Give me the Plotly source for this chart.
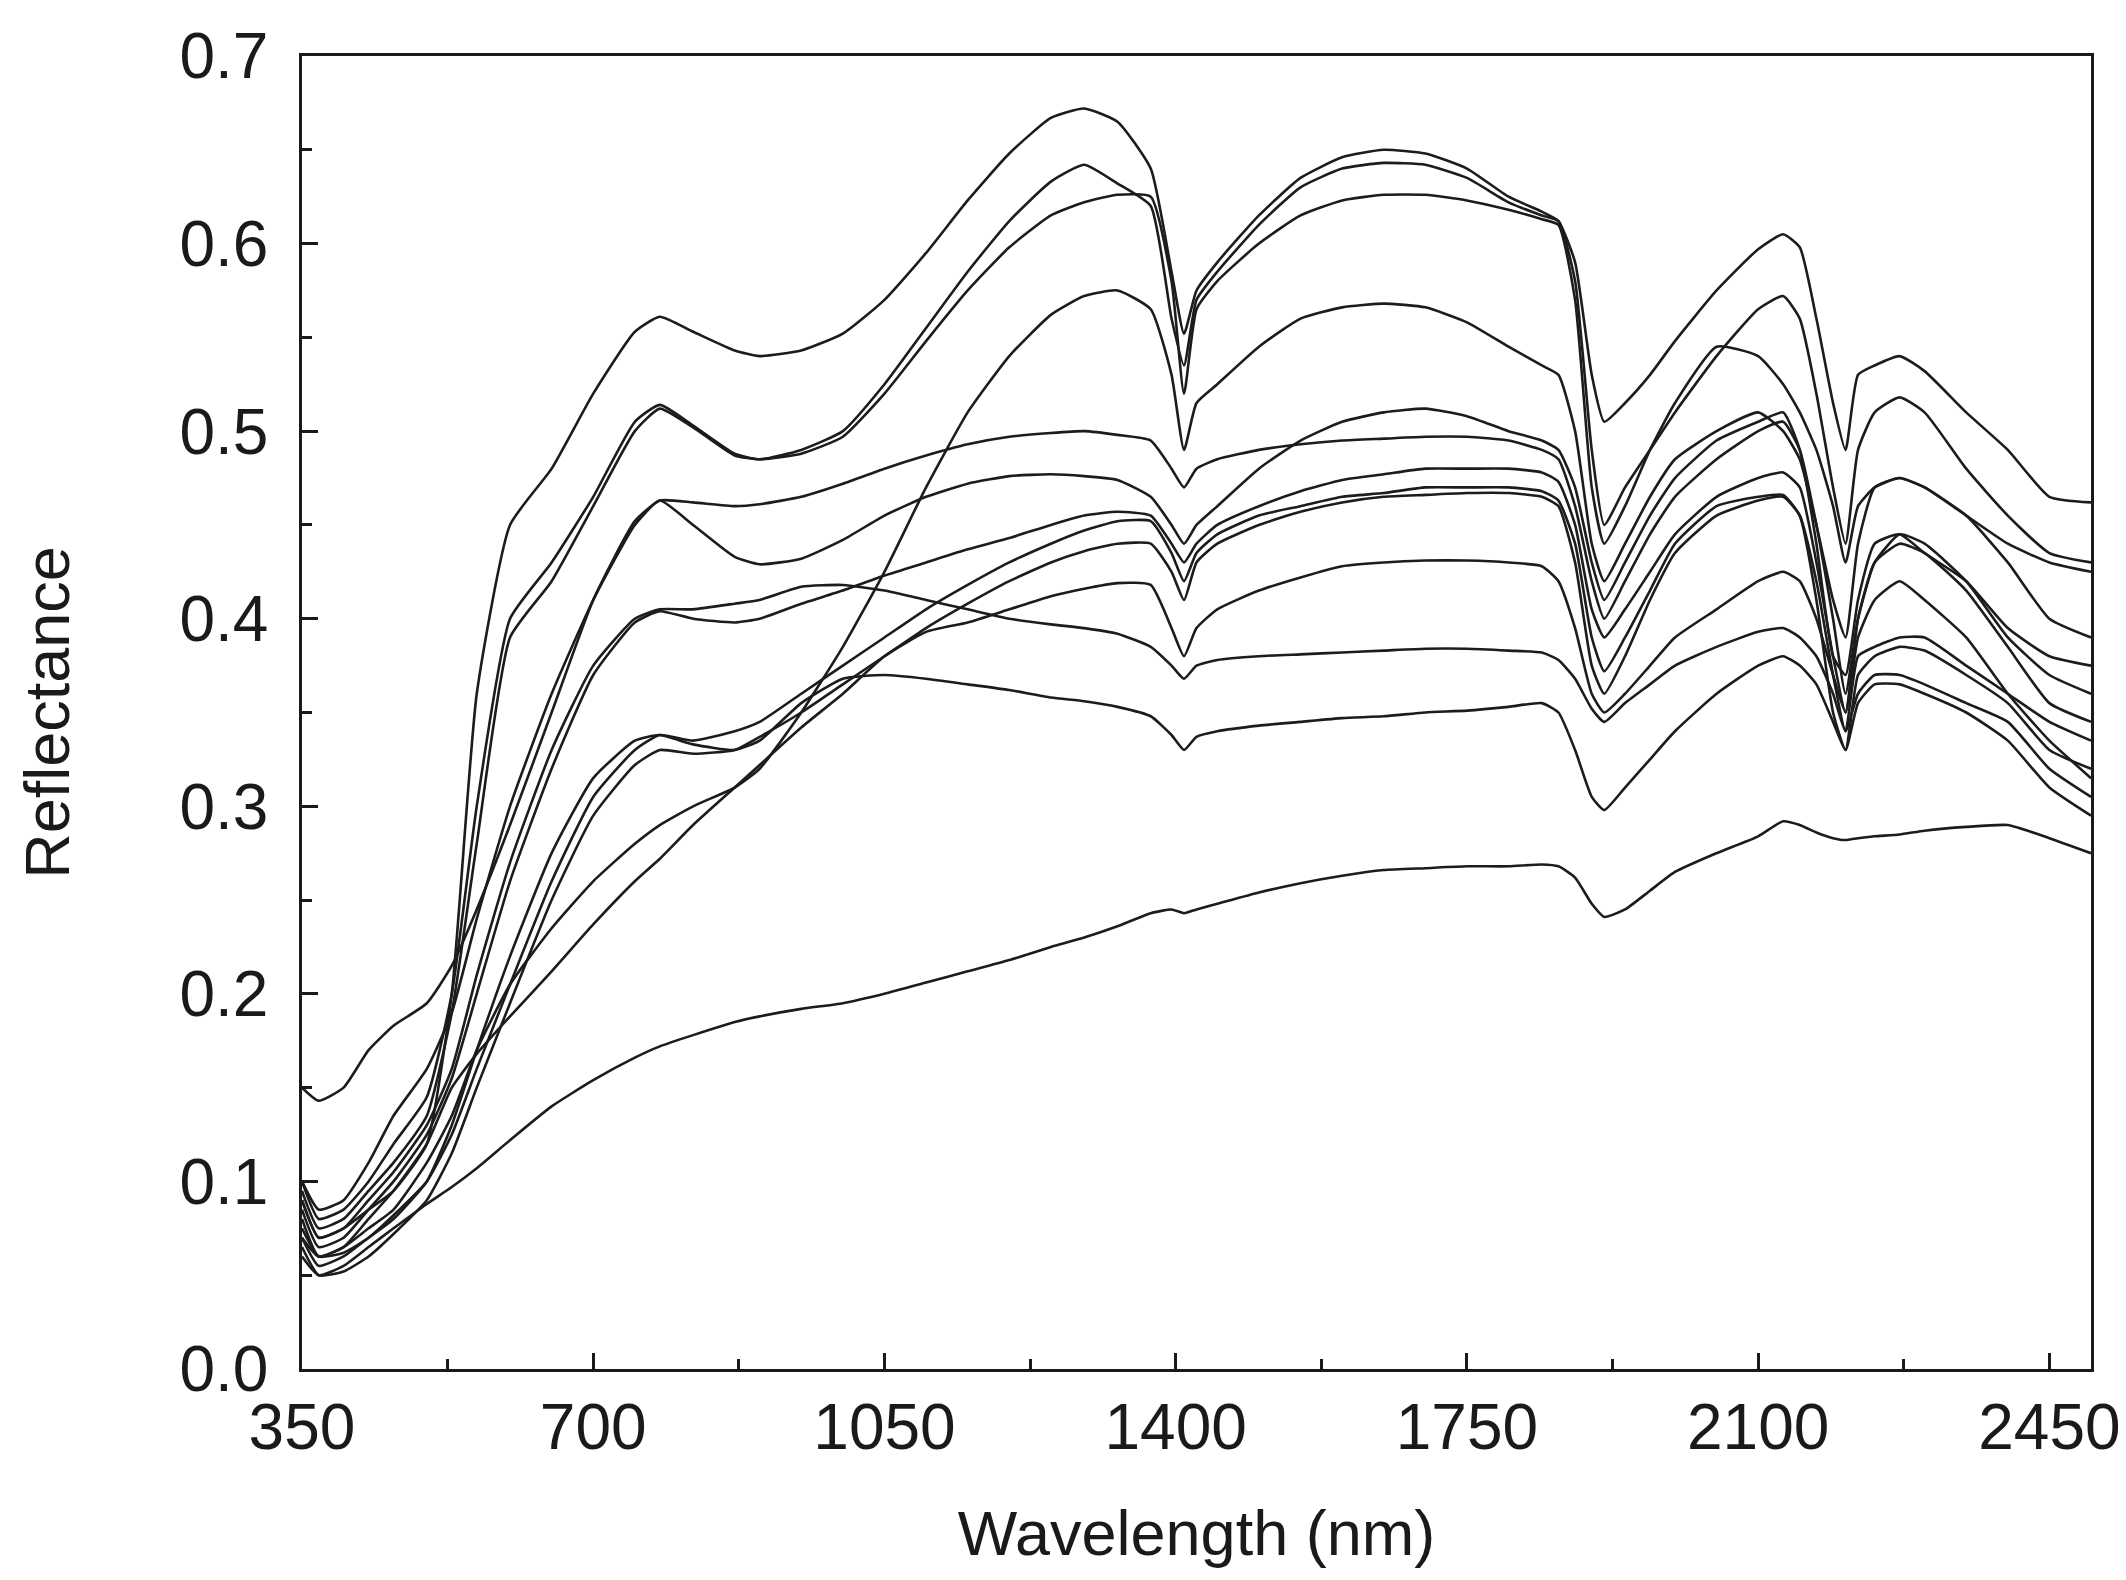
import plotly.graph_objects as go

# wavelength grid (nm) shared by all spectra
wavelength = [350, 370, 400, 430, 460, 500, 530, 560, 600, 650,
              700, 750, 780, 820, 870, 900, 950, 1000, 1050, 1100,
              1150, 1200, 1250, 1290, 1330, 1370, 1395, 1410, 1425, 1450,
              1500, 1550, 1600, 1650, 1700, 1750, 1800, 1840, 1860, 1880,
              1900, 1915, 1940, 1970, 2000, 2050, 2100, 2130, 2150, 2170,
              2190, 2205, 2220, 2240, 2270, 2300, 2350, 2400, 2450, 2500]

spec_a = [0.09, 0.07, 0.075, 0.085, 0.095, 0.12, 0.20, 0.36, 0.45, 0.48,
          0.52, 0.553, 0.561, 0.553, 0.543, 0.540, 0.543, 0.552, 0.570, 0.595,
          0.623, 0.648, 0.667, 0.672, 0.665, 0.640, 0.585, 0.552, 0.575, 0.59,
          0.615, 0.635, 0.646, 0.650, 0.648, 0.640, 0.625, 0.617, 0.612, 0.59,
          0.53, 0.505, 0.515, 0.53, 0.548, 0.575, 0.597, 0.605, 0.598, 0.56,
          0.515, 0.49, 0.53, 0.535, 0.54, 0.532, 0.51, 0.49, 0.465, 0.462]

spec_b = [0.10, 0.08, 0.085, 0.10, 0.12, 0.145, 0.20, 0.30, 0.40, 0.43,
          0.465, 0.505, 0.514, 0.503, 0.488, 0.485, 0.49, 0.50, 0.525, 0.555,
          0.585, 0.612, 0.633, 0.642, 0.632, 0.62, 0.56, 0.535, 0.57, 0.585,
          0.61, 0.63, 0.640, 0.643, 0.642, 0.635, 0.622, 0.615, 0.612, 0.58,
          0.49, 0.45, 0.47, 0.49, 0.51, 0.54, 0.565, 0.572, 0.56, 0.52,
          0.47, 0.44, 0.49, 0.51, 0.518, 0.51, 0.48, 0.455, 0.435, 0.43]

spec_c = [0.095, 0.075, 0.08, 0.095, 0.11, 0.135, 0.19, 0.28, 0.39, 0.42,
          0.46, 0.50, 0.512, 0.502, 0.487, 0.485, 0.488, 0.497, 0.52, 0.548,
          0.575, 0.598, 0.615, 0.622, 0.626, 0.625, 0.58, 0.52, 0.565, 0.58,
          0.60, 0.615, 0.623, 0.626, 0.626, 0.623, 0.618, 0.613, 0.61, 0.57,
          0.47, 0.44, 0.46, 0.49, 0.515, 0.545, 0.54, 0.525, 0.51, 0.49,
          0.46, 0.43, 0.46, 0.47, 0.475, 0.47, 0.455, 0.44, 0.43, 0.425]

spec_d = [0.08, 0.06, 0.065, 0.075, 0.085, 0.11, 0.135, 0.17, 0.205, 0.235,
          0.26, 0.28, 0.29, 0.30, 0.31, 0.32, 0.35, 0.385, 0.425, 0.47,
          0.51, 0.54, 0.562, 0.572, 0.575, 0.565, 0.53, 0.49, 0.515, 0.525,
          0.545, 0.56, 0.566, 0.568, 0.566, 0.558, 0.545, 0.535, 0.53, 0.50,
          0.44, 0.42, 0.44, 0.465, 0.485, 0.50, 0.51, 0.50, 0.485, 0.45,
          0.41, 0.39, 0.44, 0.47, 0.475, 0.47, 0.455, 0.43, 0.40, 0.39]

spec_e = [0.10, 0.085, 0.09, 0.11, 0.135, 0.16, 0.19, 0.24, 0.30, 0.36,
          0.41, 0.45, 0.463, 0.45, 0.433, 0.429, 0.432, 0.442, 0.455, 0.465,
          0.472, 0.476, 0.477, 0.476, 0.474, 0.465, 0.45, 0.44, 0.45, 0.46,
          0.48, 0.495, 0.505, 0.51, 0.512, 0.508, 0.50, 0.495, 0.49, 0.47,
          0.43, 0.41, 0.43, 0.455, 0.475, 0.495, 0.505, 0.51, 0.49, 0.44,
          0.38, 0.37, 0.41, 0.44, 0.445, 0.435, 0.42, 0.395, 0.38, 0.375]

spec_f = [0.15, 0.143, 0.15, 0.17, 0.183, 0.195, 0.215, 0.245, 0.29, 0.35,
          0.41, 0.452, 0.463, 0.462, 0.46, 0.461, 0.465, 0.472, 0.48, 0.487,
          0.493, 0.497, 0.499, 0.50, 0.498, 0.495, 0.48, 0.47, 0.48, 0.485,
          0.49, 0.493, 0.495, 0.496, 0.497, 0.497, 0.495, 0.49, 0.485, 0.46,
          0.42, 0.40, 0.42, 0.445, 0.465, 0.485, 0.50, 0.505, 0.49, 0.45,
          0.40, 0.36, 0.40, 0.43, 0.445, 0.44, 0.42, 0.39, 0.37, 0.36]

spec_g = [0.085, 0.065, 0.07, 0.085, 0.10, 0.125, 0.155, 0.20, 0.26, 0.32,
          0.37, 0.398, 0.404, 0.40, 0.398, 0.40, 0.408, 0.415, 0.423, 0.43,
          0.437, 0.443, 0.45, 0.455, 0.457, 0.455, 0.44, 0.43, 0.44, 0.45,
          0.46, 0.468, 0.474, 0.477, 0.48, 0.48, 0.48, 0.478, 0.473, 0.45,
          0.405, 0.39, 0.405, 0.425, 0.445, 0.465, 0.475, 0.478, 0.47, 0.43,
          0.38, 0.35, 0.40, 0.43, 0.44, 0.435, 0.415, 0.385, 0.355, 0.345]

spec_h = [0.075, 0.06, 0.062, 0.07, 0.082, 0.10, 0.125, 0.16, 0.205, 0.26,
          0.305, 0.33, 0.338, 0.335, 0.34, 0.345, 0.36, 0.375, 0.39, 0.405,
          0.418, 0.43, 0.44, 0.447, 0.452, 0.452, 0.435, 0.42, 0.435, 0.445,
          0.455, 0.46, 0.465, 0.467, 0.47, 0.47, 0.47, 0.468, 0.463, 0.44,
          0.39, 0.372, 0.39, 0.415, 0.44, 0.46, 0.465, 0.466, 0.455, 0.42,
          0.37, 0.34, 0.38, 0.385, 0.39, 0.39, 0.375, 0.36, 0.345, 0.335]

spec_i = [0.065, 0.05, 0.052, 0.06, 0.072, 0.09, 0.115, 0.15, 0.195, 0.25,
          0.295, 0.322, 0.33, 0.328, 0.33, 0.337, 0.35, 0.365, 0.38, 0.395,
          0.408, 0.42, 0.43, 0.436, 0.44, 0.44, 0.425, 0.41, 0.43, 0.44,
          0.45, 0.457, 0.462, 0.465, 0.466, 0.467, 0.467, 0.465, 0.46, 0.43,
          0.375, 0.36, 0.38, 0.41, 0.435, 0.455, 0.463, 0.465, 0.455, 0.41,
          0.35, 0.33, 0.37, 0.38, 0.385, 0.383, 0.37, 0.355, 0.33, 0.32]

spec_j = [0.07, 0.06, 0.065, 0.08, 0.095, 0.12, 0.15, 0.168, 0.188, 0.212,
          0.237, 0.26, 0.272, 0.29, 0.31, 0.322, 0.342, 0.36, 0.38, 0.393,
          0.398, 0.405, 0.412, 0.416, 0.419, 0.418, 0.395, 0.38, 0.395, 0.405,
          0.415, 0.422, 0.428, 0.43, 0.431, 0.431, 0.43, 0.428, 0.42, 0.395,
          0.36, 0.35, 0.36, 0.375, 0.39, 0.405, 0.42, 0.425, 0.42, 0.40,
          0.37, 0.35, 0.39, 0.41, 0.42, 0.41, 0.39, 0.36, 0.335, 0.315]

spec_k = [0.09, 0.07, 0.075, 0.09, 0.105, 0.13, 0.16, 0.21, 0.27, 0.33,
          0.375, 0.40, 0.405, 0.405, 0.408, 0.41, 0.417, 0.418, 0.415, 0.41,
          0.405, 0.40, 0.397, 0.395, 0.392, 0.385, 0.375, 0.368, 0.375, 0.378,
          0.38, 0.381, 0.382, 0.383, 0.384, 0.384, 0.383, 0.382, 0.378, 0.368,
          0.352, 0.345, 0.355, 0.365, 0.375, 0.385, 0.393, 0.395, 0.39, 0.38,
          0.36, 0.34, 0.36, 0.37, 0.37, 0.365, 0.355, 0.345, 0.32, 0.305]

spec_l = [0.07, 0.055, 0.06, 0.07, 0.08, 0.10, 0.13, 0.17, 0.22, 0.275,
          0.315, 0.335, 0.338, 0.333, 0.33, 0.335, 0.355, 0.368, 0.37, 0.368,
          0.365, 0.362, 0.358, 0.356, 0.353, 0.348, 0.338, 0.33, 0.337, 0.34,
          0.343, 0.345, 0.347, 0.348, 0.35, 0.351, 0.353, 0.355, 0.35, 0.33,
          0.305, 0.298, 0.31, 0.325, 0.34, 0.36, 0.375, 0.38, 0.375, 0.365,
          0.345, 0.33, 0.355, 0.365, 0.365, 0.36, 0.35, 0.335, 0.31, 0.295]

spec_m = [0.06, 0.05, 0.055, 0.065, 0.075, 0.088, 0.097, 0.107, 0.122, 0.14,
          0.154, 0.166, 0.172, 0.178, 0.185, 0.188, 0.192, 0.195, 0.2, 0.206,
          0.212, 0.218, 0.225, 0.23, 0.236, 0.243, 0.245, 0.243, 0.245, 0.248,
          0.254, 0.259, 0.263, 0.266, 0.267, 0.268, 0.268, 0.269, 0.268, 0.262,
          0.248, 0.241, 0.245, 0.255, 0.265, 0.275, 0.284, 0.292, 0.29, 0.286,
          0.283, 0.282, 0.283, 0.284, 0.285, 0.287, 0.289, 0.29, 0.283, 0.275]

spectra = [spec_a, spec_b, spec_c, spec_d, spec_e, spec_f, spec_g,
           spec_h, spec_i, spec_j, spec_k, spec_l, spec_m]

x_ticks = [350, 700, 1050, 1400, 1750, 2100, 2450]
y_ticks = [0.0, 0.1, 0.2, 0.3, 0.4, 0.5, 0.6, 0.7]

fig = go.Figure()
for s in spectra:
    fig.add_trace(go.Scatter(x=wavelength, y=s, mode='lines',
                             line=dict(color='#1c1c1c', width=2.6, shape='spline', smoothing=0.5),
                             showlegend=False, hoverinfo='skip'))

font_family = 'Liberation Sans, Arial, sans-serif'
fig.update_layout(
    width=2126, height=1580,
    margin=dict(l=294, r=43, t=45, b=219),
    plot_bgcolor='white', paper_bgcolor='white',
    font=dict(family=font_family, color='#1a1a1a'),
)
fig.update_xaxes(
    range=[350, 2500], tickvals=x_ticks, ticks='inside', ticklen=16, tickwidth=2.5,
    tickcolor='#1a1a1a', tickfont=dict(size=64),
    minor=dict(dtick=175, tick0=350, ticks='inside', ticklen=10, tickwidth=2.5, tickcolor='#1a1a1a'),
    showline=True, linewidth=2.5, linecolor='#1a1a1a', mirror=True, showgrid=False, zeroline=False,
    title=dict(text='Wavelength (nm)', font=dict(size=63), standoff=50),
)
fig.update_yaxes(
    range=[0, 0.7], tickvals=y_ticks, tickformat='.1f', ticks='inside', ticklen=16, tickwidth=2.5,
    tickcolor='#1a1a1a', tickfont=dict(size=64), ticklabelstandoff=18,
    minor=dict(dtick=0.05, tick0=0, ticks='inside', ticklen=10, tickwidth=2.5, tickcolor='#1a1a1a'),
    showline=True, linewidth=2.5, linecolor='#1a1a1a', mirror=True, showgrid=False, zeroline=False,
    title=dict(text='Reflectance', font=dict(size=63), standoff=90),
)

fig.write_html("out.html")
